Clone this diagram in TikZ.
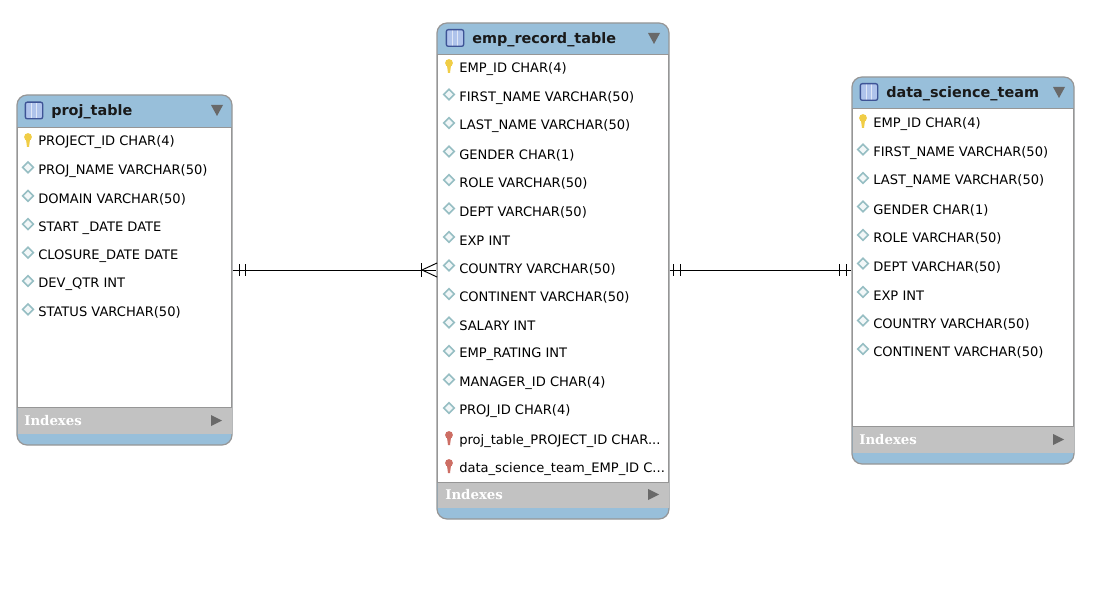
\documentclass[tikz,border=0pt]{standalone}
\usepackage{fontspec}
\setmainfont{DejaVu Sans}
\newfontfamily\serifbold{DejaVu Serif}
\usetikzlibrary{fit, positioning, shapes.geometric}
\definecolor{headblue}{RGB}{152,191,218}
\definecolor{framegray}{RGB}{150,150,150}
\definecolor{indexgray}{RGB}{194,194,194}
\definecolor{arrowgray}{RGB}{105,105,105}
\definecolor{keyyellow}{RGB}{240,205,70}
\definecolor{keyred}{RGB}{205,110,100}
\definecolor{diamondblue}{RGB}{150,190,195}
\definecolor{iconblue}{RGB}{62,84,150}
\definecolor{iconfill}{RGB}{175,195,235}
\tikzset{
    tableframe/.style={draw=framegray, line width=0.9pt, rounded corners=7.5pt, fill=headblue, inner sep=0pt},
    tablebody/.style={draw=framegray, line width=0.5pt, fill=white},
    tabletitle/.style={font=\bfseries\fontsize{10.8}{14}\selectfont, anchor=west, text=black!90, inner sep=0pt},
    columntext/.style={font=\fontsize{9.8}{12}\selectfont, anchor=west, text=black, inner sep=0pt},
    indextext/.style={font=\serifbold\bfseries\fontsize{10}{12}\selectfont, anchor=west, text=white, inner sep=0pt},
    tableicon/.style={draw=iconblue, line width=1pt, rounded corners=1.5pt, fill=iconfill, minimum width=13pt, minimum height=12.5pt, inner sep=0pt,
        path picture={
            \foreach \dx in {-2.2pt,2.2pt} {
                \draw[white!60!iconfill, line width=0.8pt] (path picture bounding box.center) ++(\dx,-7pt) -- ++(0,14pt);
            }
        }},
    coldiamond/.style={draw=diamondblue, line width=1.2pt, fill=diamondblue!12, diamond, minimum size=8.5pt, inner sep=0pt},
    triangledown/.style={fill=arrowgray},
    relline/.style={draw=black, line width=0.7pt},
    pics/columnkey/.style={code={
        \fill[#1] (0,-4) circle (3.9);
        \fill[#1] (-2.2,-3) -- (2.2,-3) -- (1,6) -- (-1,6) -- cycle;
    }},
}
\begin{document}
\begin{tikzpicture}[x=0.75pt, y=-0.75pt]
    \useasboundingbox (0,0) rectangle (1101,592);

    % proj_table
    \node[tableframe, fit={(17,95) (232,445)}] (proj) {};
    \fill[indexgray] (17.5,407) rectangle (231.5,434);
    \draw[tablebody] (17.5,127) rectangle (231.5,407);
    \node[tableicon] (projicon) at (34,110.5) {};
    \node[tabletitle] (projtitle) at (51,112) {proj\_table};
    \fill[triangledown] (211,105) -- (223,105) -- (217,116) -- cycle;
    \pic at (28,141) {columnkey=keyyellow};
    \node[columntext] (projkey) at (38,142.5) {PROJECT\_ID CHAR(4)};
    \foreach \txt [count=\n] in {PROJ\_NAME VARCHAR(50), DOMAIN VARCHAR(50), START \_DATE DATE,
        CLOSURE\_DATE DATE, DEV\_QTR INT, STATUS VARCHAR(50)} {
        \node[coldiamond] (projmark\n) at (28,{141+28.4*\n-2}) {};
        \node[columntext] (projcol\n) at (38,{142.5+28.4*\n}) {\txt};
    }
    \node[indextext] (projindex) at (24,421) {Indexes};
    \fill[triangledown] (211,415) -- (222,420.5) -- (211,426) -- cycle;

    % emp_record_table
    \node[tableframe, fit={(437,23) (669,519)}] (emp) {};
    \fill[indexgray] (437.5,482) rectangle (668.5,508);
    \draw[tablebody] (437.5,54) rectangle (668.5,482);
    \node[tableicon] (empicon) at (455,38) {};
    \node[tabletitle] (emptitle) at (472,40) {emp\_record\_table};
    \fill[triangledown] (648,33) -- (660,33) -- (654,44) -- cycle;
    \pic at (449,67) {columnkey=keyyellow};
    \node[columntext] (empkey) at (459,69.5) {EMP\_ID CHAR(4)};
    \foreach \txt [count=\n] in {FIRST\_NAME VARCHAR(50), LAST\_NAME VARCHAR(50), GENDER CHAR(1),
        ROLE VARCHAR(50), DEPT VARCHAR(50), EXP INT, COUNTRY VARCHAR(50), CONTINENT VARCHAR(50),
        SALARY INT, EMP\_RATING INT, MANAGER\_ID CHAR(4), PROJ\_ID CHAR(4)} {
        \node[coldiamond] (empmark\n) at (449,{68+28.5*\n-2}) {};
        \node[columntext] (empcol\n) at (459,{69.5+28.5*\n}) {\txt};
    }
    \pic at (449,439) {columnkey=keyred};
    \node[columntext] (empfka) at (459,441) {proj\_table\_PROJECT\_ID CHAR...};
    \pic at (449,467) {columnkey=keyred};
    \node[columntext] (empfkb) at (459,469.5) {data\_science\_team\_EMP\_ID C...};
    \node[indextext] (empindex) at (445,495) {Indexes};
    \fill[triangledown] (648,489) -- (659,494.5) -- (648,500) -- cycle;

    % data_science_team
    \node[tableframe, fit={(852,77) (1074,464)}] (team) {};
    \fill[indexgray] (852.5,426) rectangle (1073.5,453);
    \draw[tablebody] (852.5,108) rectangle (1073.5,426);
    \node[tableicon] (teamicon) at (869,92) {};
    \node[tabletitle] (teamtitle) at (886,94) {data\_science\_team};
    \fill[triangledown] (1053,87) -- (1065,87) -- (1059,98) -- cycle;
    \pic at (863,122) {columnkey=keyyellow};
    \node[columntext] (teamkey) at (873,124.5) {EMP\_ID CHAR(4)};
    \foreach \txt [count=\n] in {FIRST\_NAME VARCHAR(50), LAST\_NAME VARCHAR(50), GENDER CHAR(1),
        ROLE VARCHAR(50), DEPT VARCHAR(50), EXP INT, COUNTRY VARCHAR(50), CONTINENT VARCHAR(50)} {
        \node[coldiamond] (teammark\n) at (863,{123+28.5*\n-2}) {};
        \node[columntext] (teamcol\n) at (873,{124.5+28.5*\n}) {\txt};
    }
    \node[indextext] (teamindex) at (859,440) {Indexes};
    \fill[triangledown] (1053,434) -- (1064,439.5) -- (1053,445) -- cycle;

    % relationships
    \draw[relline] (proj.east |- 0,270) -- (emp.west |- 0,270);
    \draw[relline] (emp.east |- 0,270) -- (team.west |- 0,270);
    \foreach \x in {239,245,673,680,839,846} {
        \draw[relline] (\x,264) -- (\x,276);
    }
    \draw[relline] (421,263) -- (421,277);
    \draw[relline] (437,263) -- (422,270) -- (437,277);
\end{tikzpicture}
\end{document}
